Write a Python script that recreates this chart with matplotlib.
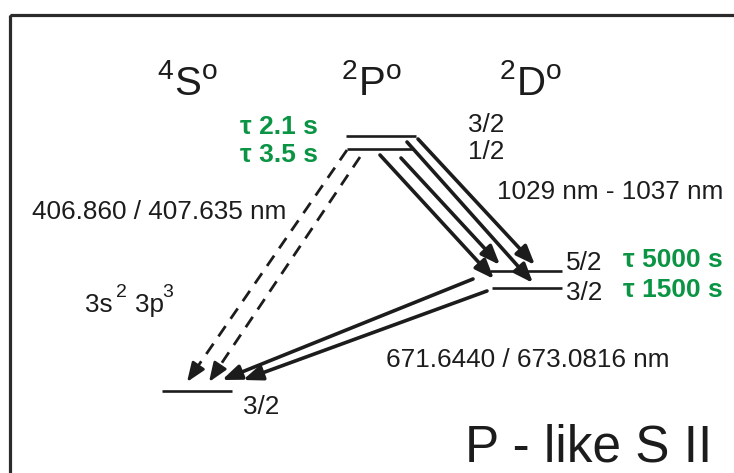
import matplotlib
matplotlib.use('Agg')
import matplotlib.pyplot as plt
from matplotlib.patches import Rectangle

plt.rcParams['font.family'] = ['Liberation Sans', 'DejaVu Sans']
plt.rcParams['mathtext.fontset'] = 'custom'
plt.rcParams['mathtext.rm'] = 'Liberation Sans'
plt.rcParams['mathtext.it'] = 'Liberation Sans:italic'
plt.rcParams['mathtext.bf'] = 'Liberation Sans:bold'

# energy levels: (x_start, x_end, y) in diagram pixel units (y grows downward)
level_names = ['S 3/2', 'P 3/2', 'P 1/2', 'D 5/2', 'D 3/2']
level_x0 = [162, 346, 347, 490, 492]
level_x1 = [232, 416, 413, 562, 562]
level_y = [391, 136, 149, 271, 288]

# transitions: start -> tip
solid_start = [(418, 139), (407, 142), (401, 158), (380, 155), (473, 279), (487, 291)]
solid_tip = [(535, 265), (533, 283), (500, 265), (494, 279), (222, 380), (243, 380)]
dashed_start = [(347, 150), (360, 157)]
dashed_tip = [(187, 382), (209, 382)]

# labels
terms = [r'$\mathregular{^4S^o}$', r'$\mathregular{^2P^o}$', r'$\mathregular{^2D^o}$']
term_x = [187, 371, 531]
j_labels = ['3/2', '1/2', '5/2', '3/2', '3/2']
j_x = [468, 468, 566, 566, 243]
j_y = [125, 152, 263, 293, 407]
lifetimes = ['\u03c4 2.1 s', '\u03c4 3.5 s', '\u03c4 5000 s', '\u03c4 1500 s']
wavelengths = ['406.860 / 407.635 nm', '1029 nm - 1037 nm', '671.6440 / 673.0816 nm']
config_parts = ['3s', '2', '3p', '3']

ink = '#1c1c1c'
green = '#0a9444'
fs = 18.8

fig = plt.figure(figsize=(7.34, 4.73), dpi=100)
ax = fig.add_axes([0, 0, 1, 1])
ax.set_xlim(0, 734)
ax.set_ylim(473, 0)
ax.axis('off')

ax.add_patch(Rectangle((9.5, 15.5), 760, 480, fill=False, lw=2.3, ec='#2b2b2b'))

for x0, x1, y in zip(level_x0, level_x1, level_y):
    ax.plot([x0, x1], [y, y], color=ink, lw=1.9, solid_capstyle='butt')

head = '-|>,head_length=1.15,head_width=0.45'
for s, t in zip(solid_start, solid_tip):
    ax.annotate('', xy=t, xytext=s,
                arrowprops=dict(arrowstyle=head, lw=2.6, color=ink,
                                shrinkA=0, shrinkB=0))

for s, t in zip(dashed_start, dashed_tip):
    dx, dy = t[0] - s[0], t[1] - s[1]
    L = (dx ** 2 + dy ** 2) ** 0.5
    bx, by = t[0] - dx / L * 17, t[1] - dy / L * 17
    ax.plot([s[0], bx], [s[1], by], color=ink, lw=2.0,
            linestyle=(0, (4.5, 3.2)), dash_capstyle='butt')
    ax.annotate('', xy=t, xytext=(bx, by),
                arrowprops=dict(arrowstyle=head, lw=2.0, color=ink,
                                shrinkA=0, shrinkB=0))

for txt, x in zip(terms, term_x):
    ax.text(x, 95, txt, fontsize=29, ha='center', va='baseline', color=ink)

for txt, x, y in zip(j_labels, j_x, j_y):
    ax.text(x, y, txt, fontsize=fs, ha='left', va='center', color=ink)

ax.text(318, 127, lifetimes[0], fontsize=19, fontweight='bold', color=green, ha='right', va='center')
ax.text(318, 155, lifetimes[1], fontsize=19, fontweight='bold', color=green, ha='right', va='center')
ax.text(623, 260, lifetimes[2], fontsize=19, fontweight='bold', color=green, ha='left', va='center')
ax.text(623, 290, lifetimes[3], fontsize=19, fontweight='bold', color=green, ha='left', va='center')

ax.text(286, 212, wavelengths[0], fontsize=fs, ha='right', va='center', color=ink)
ax.text(497, 192, wavelengths[1], fontsize=fs, ha='left', va='center', color=ink)
ax.text(386, 360, wavelengths[2], fontsize=fs, ha='left', va='center', color=ink)

# 3s2 3p3 with raised exponents
ax.text(85, 312, config_parts[0], fontsize=fs, ha='left', va='baseline', color=ink)
ax.text(116, 297, config_parts[1], fontsize=14, ha='left', va='baseline', color=ink)
ax.text(135, 312, config_parts[2], fontsize=fs, ha='left', va='baseline', color=ink)
ax.text(162, 297, config_parts[3], fontsize=14, ha='left', va='baseline', color=ink)

ax.text(465, 461, 'P - like S II', fontsize=37, ha='left', va='baseline', color=ink)

fig.savefig('out.png', dpi=100)
